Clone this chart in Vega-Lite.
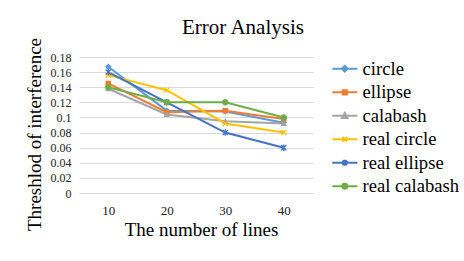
{
  "$schema": "https://vega.github.io/schema/vega-lite/v6.json",
  "width": 234,
  "height": 136,
  "autosize": {"type": "none"},
  "padding": {"left": 79, "top": 57, "right": 151, "bottom": 68},
  "background": "white",
  "config": {
    "font": "Liberation Serif",
    "view": {"stroke": null},
    "axis": {"labelFont": "Liberation Serif", "titleFont": "Liberation Serif", "labelColor": "#222", "titleColor": "#000", "titleFontWeight": "normal"},
    "legend": {"labelFont": "Liberation Serif"}
  },
  "title": {
    "text": "Error Analysis",
    "font": "Liberation Serif",
    "fontSize": 21,
    "fontWeight": "normal",
    "color": "#000",
    "dx": 47,
    "offset": -1
  },
  "data": {
    "values": [
      {"lines": 10, "series": "circle", "value": 0.167},
      {"lines": 20, "series": "circle", "value": 0.109},
      {"lines": 30, "series": "circle", "value": 0.108},
      {"lines": 40, "series": "circle", "value": 0.093},
      {"lines": 10, "series": "ellipse", "value": 0.145},
      {"lines": 20, "series": "ellipse", "value": 0.107},
      {"lines": 30, "series": "ellipse", "value": 0.109},
      {"lines": 40, "series": "ellipse", "value": 0.098},
      {"lines": 10, "series": "calabash", "value": 0.138},
      {"lines": 20, "series": "calabash", "value": 0.104},
      {"lines": 30, "series": "calabash", "value": 0.095},
      {"lines": 40, "series": "calabash", "value": 0.092},
      {"lines": 10, "series": "real circle", "value": 0.156},
      {"lines": 20, "series": "real circle", "value": 0.136},
      {"lines": 30, "series": "real circle", "value": 0.092},
      {"lines": 40, "series": "real circle", "value": 0.080},
      {"lines": 10, "series": "real ellipse", "value": 0.160},
      {"lines": 20, "series": "real ellipse", "value": 0.120},
      {"lines": 30, "series": "real ellipse", "value": 0.080},
      {"lines": 40, "series": "real ellipse", "value": 0.060},
      {"lines": 10, "series": "real calabash", "value": 0.140},
      {"lines": 20, "series": "real calabash", "value": 0.120},
      {"lines": 30, "series": "real calabash", "value": 0.120},
      {"lines": 40, "series": "real calabash", "value": 0.100}
    ]
  },
  "encoding": {
    "x": {
      "field": "lines",
      "type": "ordinal",
      "scale": {"type": "point", "padding": 0.5},
      "axis": {
        "title": "The number of lines",
        "labelFont": "Liberation Serif",
        "titleFont": "Liberation Serif",
        "labelAngle": 0,
        "labelFontSize": 13,
        "titleFontSize": 19,
        "domain": false,
        "ticks": false,
        "tickSize": 0,
        "labelPadding": 11,
        "titlePadding": 3,
        "titleX": 122
      }
    },
    "y": {
      "field": "value",
      "type": "quantitative",
      "scale": {"domain": [0, 0.18], "nice": false, "zero": true},
      "axis": {
        "title": "Threshlod of interference",
        "labelFont": "Liberation Serif",
        "titleFont": "Liberation Serif",
        "values": [0, 0.02, 0.04, 0.06, 0.08, 0.1, 0.12, 0.14, 0.16, 0.18],
        "format": "~g",
        "labelFontSize": 12,
        "titleFontSize": 19,
        "domain": false,
        "ticks": false,
        "tickSize": 0,
        "labelPadding": 8,
        "titlePadding": 6,
        "titleY": 77,
        "grid": true,
        "gridColor": "#D9D9D9",
        "gridWidth": 1
      }
    },
    "color": {
      "field": "series",
      "type": "nominal",
      "scale": {
        "domain": ["circle", "ellipse", "calabash", "real circle", "real ellipse", "real calabash"],
        "range": ["#5B9BD5", "#ED7D31", "#A5A5A5", "#FFC000", "#4472C4", "#70AD47"]
      },
      "legend": {
        "title": null,
        "orient": "none",
        "legendX": 256.5,
        "legendY": 2.5,
        "labelFont": "Liberation Serif",
        "labelFontSize": 18.6,
        "labelColor": "#000",
        "labelOffset": 8.5,
        "rowPadding": 4.5,
        "symbolSize": 196,
        "symbolStrokeWidth": 2,
        "symbolOpacity": 1
      }
    }
  },
  "layer": [
    {
      "mark": {"type": "line", "strokeWidth": 2}
    },
    {
      "mark": {"type": "point", "filled": true, "size": 42, "opacity": 0},
      "encoding": {
        "shape": {
          "field": "series",
          "type": "nominal",
          "scale": {
            "domain": ["circle", "ellipse", "calabash", "real circle", "real ellipse", "real calabash"],
            "range": [
              "M-1.79,0H1.79M0,-0.4L0.4,0L0,0.4L-0.4,0Z",
              "M-1.79,0H1.79M-0.3,-0.3H0.3V0.3H-0.3Z",
              "M-1.79,0H1.79M0,-0.4L0.4,0.3L-0.4,0.3Z",
              "M-1.79,0H1.79M-0.33,-0.33L0.33,0.33M-0.33,0.33L0.33,-0.33",
              "M-1.79,0H1.79M-0.33,-0.33L0.33,0.33M-0.33,0.33L0.33,-0.33M0,-0.42V0.42",
              "M-1.79,0H1.79M0.35,0A0.35,0.35,0,1,1,-0.35,0A0.35,0.35,0,1,1,0.35,0Z"
            ]
          },
          "legend": null
        },
        "stroke": {
          "field": "series",
          "type": "nominal",
          "scale": {
            "domain": ["circle", "ellipse", "calabash", "real circle", "real ellipse", "real calabash"],
            "range": ["#5B9BD5", "#ED7D31", "#A5A5A5", "#FFC000", "#4472C4", "#70AD47"]
          },
          "legend": null
        }
      }
    },
    {
      "transform": [{"filter": "datum.series === 'circle'"}],
      "mark": {"type": "point", "filled": true, "size": 42, "opacity": 1, "shape": "M0,-1L1,0L0,1L-1,0Z"},
      "encoding": {"color": {"value": "#5B9BD5"}}
    },
    {
      "transform": [{"filter": "datum.series === 'ellipse'"}],
      "mark": {"type": "point", "filled": true, "size": 42, "opacity": 1, "shape": "M-0.85,-0.85H0.85V0.85H-0.85Z"},
      "encoding": {"color": {"value": "#ED7D31"}}
    },
    {
      "transform": [{"filter": "datum.series === 'calabash'"}],
      "mark": {"type": "point", "filled": true, "size": 42, "opacity": 1, "shape": "M0,-1L1,0.8L-1,0.8Z"},
      "encoding": {"color": {"value": "#A5A5A5"}}
    },
    {
      "transform": [{"filter": "datum.series === 'real circle'"}],
      "mark": {"type": "point", "filled": false, "size": 42, "opacity": 1, "strokeWidth": 1.3, "shape": "M-0.8,-0.8L0.8,0.8M-0.8,0.8L0.8,-0.8"},
      "encoding": {"color": {"value": "#FFC000"}}
    },
    {
      "transform": [{"filter": "datum.series === 'real ellipse'"}],
      "mark": {"type": "point", "filled": false, "size": 42, "opacity": 1, "strokeWidth": 1.3, "shape": "M-0.8,-0.8L0.8,0.8M-0.8,0.8L0.8,-0.8M0,-1V1"},
      "encoding": {"color": {"value": "#4472C4"}}
    },
    {
      "transform": [{"filter": "datum.series === 'real calabash'"}],
      "mark": {"type": "point", "filled": true, "size": 42, "opacity": 1, "shape": "M1,0A1,1,0,1,1,-1,0A1,1,0,1,1,1,0Z"},
      "encoding": {"color": {"value": "#70AD47"}}
    }
  ]
}
